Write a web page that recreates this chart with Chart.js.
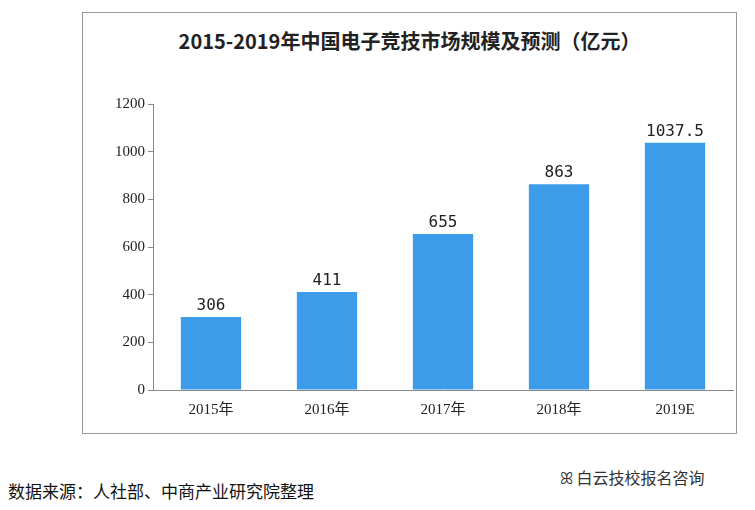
<!DOCTYPE html>
<html><head><meta charset="utf-8">
<script src="https://cdn.jsdelivr.net/npm/chart.js@4"></script>
<style>
body{margin:0;width:755px;height:510px;background:#fff;position:relative;font-family:"Noto Sans CJK SC";overflow:hidden}
#frame{position:absolute;left:82px;top:12px;width:655px;height:422px;border:1px solid #999;box-sizing:border-box}
#title{position:absolute;left:82px;top:26px;width:655px;text-align:center;font-size:20px;font-weight:bold;color:#222}
#wrap{position:absolute;left:112px;top:92px;width:625px;height:330px}
#src{position:absolute;left:8px;top:478px;font-size:17px;color:#111}
#wx{position:absolute;left:560px;top:465px;font-size:16px;color:#333}
</style></head><body>
<div id="frame"></div>
<div id="title">2015-2019年中国电子竞技市场规模及预测（亿元）</div>
<div id="wrap"><canvas id="c"></canvas></div>
<div id="src">数据来源：人社部、中商产业研究院整理</div>
<div id="wx">ꕤ 白云技校报名咨询</div>
<script>
const categories=["2015年","2016年","2017年","2018年","2019E"];
const values=[306,411,655,863,1037.5];
const valueLabels=["306","411","655","863","1037.5"];
const labelPlugin={id:'lbl',afterDatasetsDraw(ch){const ctx=ch.ctx;const m=ch.getDatasetMeta(0);ctx.save();ctx.font='16px "DejaVu Sans Mono"';ctx.fillStyle='#222';ctx.textAlign='center';ctx.textBaseline='bottom';m.data.forEach((b,i)=>{ctx.fillText(valueLabels[i],b.x,b.y-3);});ctx.restore();}};
new Chart(document.getElementById('c'),{type:'bar',data:{labels:categories,datasets:[{data:values,backgroundColor:'#3d9ce9',barPercentage:0.52,categoryPercentage:1}]},
options:{responsive:true,maintainAspectRatio:false,animation:false,layout:{padding:{top:10,right:4}},
plugins:{legend:{display:false},tooltip:{enabled:false}},
scales:{x:{grid:{display:false},border:{color:'#888'},ticks:{color:'#222',font:{size:15,family:'"Liberation Serif","Noto Sans CJK SC"'}}},
y:{min:0,max:1200,grid:{display:true,drawOnChartArea:false,tickLength:5,color:'#888'},border:{color:'#888'},ticks:{stepSize:200,color:'#222',font:{size:15,family:'"Liberation Serif"'},callback:v=>String(v)}}}},
plugins:[labelPlugin]});
</script></body></html>
